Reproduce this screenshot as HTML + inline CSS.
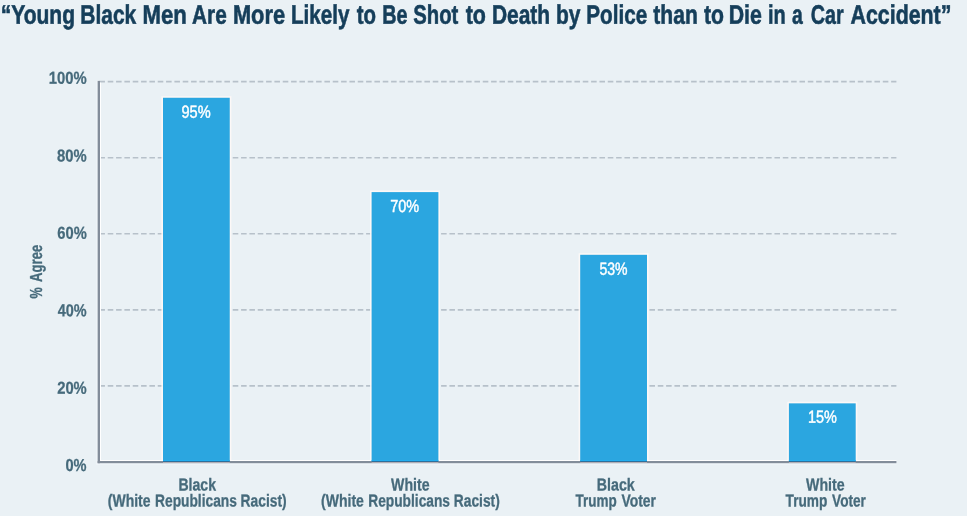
<!DOCTYPE html>
<html>
<head>
<meta charset="utf-8">
<title>Chart</title>
<style>
  html, body { margin: 0; padding: 0; background: #eaf1f5; }
  body { width: 967px; height: 516px; overflow: hidden; }
  svg { display: block; }
  svg { will-change: transform; }
  text { font-family: "Liberation Sans", sans-serif; text-rendering: geometricPrecision; }
  .title text { font-weight: bold; font-size: 26.7px; fill: #153e5a; stroke: #153e5a; stroke-width: 0.6px; }
  .tick { font-weight: bold; font-size: 17.3px; fill: #466a7b; stroke: #466a7b; stroke-width: 0.25px; }
  .val { font-weight: normal; font-size: 17.5px; fill: #ffffff; stroke: #ffffff; stroke-width: 0.45px; }
  .cat { font-weight: bold; font-size: 17.4px; fill: #466a7b; stroke: #466a7b; stroke-width: 0.3px; }
</style>
</head>
<body>
<svg width="967" height="516" viewBox="0 0 967 516">
  <rect x="0" y="0" width="967" height="516" fill="#eaf1f5"/>

  <!-- gridlines -->
  <g stroke="#b7c1ca" stroke-width="1.6" stroke-dasharray="5.556 2.778" fill="none">
    <line x1="99.4" y1="81.6" x2="896.4" y2="81.6"/>
    <line x1="99.4" y1="157.7" x2="896.4" y2="157.7"/>
    <line x1="99.4" y1="233.75" x2="896.4" y2="233.75"/>
    <line x1="99.4" y1="309.85" x2="896.4" y2="309.85"/>
    <line x1="99.4" y1="385.9" x2="896.4" y2="385.9"/>
  </g>

  <!-- light halo (sharpening artefact in source) -->
  <g fill="#fdf8f6" opacity="0.92">
    <rect x="161.40" y="96.15" width="69.95" height="364.85"/>
    <rect x="370.00" y="190.50" width="70.00" height="270.50"/>
    <rect x="578.60" y="253.20" width="70.00" height="207.80"/>
    <rect x="787.30" y="401.75" width="70.00" height="59.25"/>
  </g>
  <rect x="100" y="82.6" width="1" height="378.4" fill="#ffffff"/>
  <rect x="100" y="460" width="796.4" height="1" fill="#ffffff"/>
  <rect x="96.3" y="81" width="1.4" height="383.6" fill="#f1f6fa"/>
  <rect x="96.3" y="463.2" width="800.1" height="1.4" fill="#f1f6fa"/>

  <!-- axes -->
  <rect x="97.65" y="80.9" width="2.35" height="382.3" fill="#838d9a"/>
  <rect x="97.65" y="461" width="798.75" height="2.2" fill="#838d9a"/>

  <!-- bars -->
  <g fill="#2ba6e0">
    <rect x="163.00" y="97.75" width="66.75" height="363.25"/>
    <rect x="371.60" y="192.10" width="66.80" height="268.90"/>
    <rect x="580.20" y="254.80" width="66.80" height="206.20"/>
    <rect x="788.90" y="403.35" width="66.80" height="57.65"/>
  </g>
  <g fill="#23adee">
    <rect x="163.00" y="460" width="66.75" height="1"/>
    <rect x="371.60" y="460" width="66.80" height="1"/>
    <rect x="580.20" y="460" width="66.80" height="1"/>
    <rect x="788.90" y="460" width="66.80" height="1"/>
  </g>
  <g fill="#2d6f9c">
    <rect x="163.00" y="461" width="66.75" height="1"/>
    <rect x="371.60" y="461" width="66.80" height="1"/>
    <rect x="580.20" y="461" width="66.80" height="1"/>
    <rect x="788.90" y="461" width="66.80" height="1"/>
  </g>
  <g fill="#cbbfc2">
    <rect x="163.00" y="462" width="66.75" height="0.7"/>
    <rect x="371.60" y="462" width="66.80" height="0.7"/>
    <rect x="580.20" y="462" width="66.80" height="0.7"/>
    <rect x="788.90" y="462" width="66.80" height="0.7"/>
  </g>

  <!-- all text (tiny per-element rotation gives unhinted, sub-pixel positioned glyphs) -->
  <g id="txt">
  <!-- title -->
  <g class="title">
    <text transform="rotate(0.05 0.68 23.75)" x="0.68" y="23.75" textLength="74.41" lengthAdjust="spacingAndGlyphs">“Young</text>
    <text transform="rotate(0.05 80.30 23.75)" x="80.30" y="23.75" textLength="55.95" lengthAdjust="spacingAndGlyphs">Black</text>
    <text transform="rotate(0.05 142.56 23.75)" x="142.56" y="23.75" textLength="44.32" lengthAdjust="spacingAndGlyphs">Men</text>
    <text transform="rotate(0.05 192.09 23.75)" x="192.09" y="23.75" textLength="34.61" lengthAdjust="spacingAndGlyphs">Are</text>
    <text transform="rotate(0.05 232.89 23.75)" x="232.89" y="23.75" textLength="52.20" lengthAdjust="spacingAndGlyphs">More</text>
    <text transform="rotate(0.05 290.90 23.75)" x="290.90" y="23.75" textLength="58.48" lengthAdjust="spacingAndGlyphs">Likely</text>
    <text transform="rotate(0.05 356.73 23.75)" x="356.73" y="23.75" textLength="19.27" lengthAdjust="spacingAndGlyphs">to</text>
    <text transform="rotate(0.05 382.22 23.75)" x="382.22" y="23.75" textLength="25.25" lengthAdjust="spacingAndGlyphs">Be</text>
    <text transform="rotate(0.05 413.28 23.75)" x="413.28" y="23.75" textLength="45.08" lengthAdjust="spacingAndGlyphs">Shot</text>
    <text transform="rotate(0.05 465.69 23.75)" x="465.69" y="23.75" textLength="20.22" lengthAdjust="spacingAndGlyphs">to</text>
    <text transform="rotate(0.05 491.93 23.75)" x="491.93" y="23.75" textLength="58.22" lengthAdjust="spacingAndGlyphs">Death</text>
    <text transform="rotate(0.05 555.94 23.75)" x="555.94" y="23.75" textLength="24.47" lengthAdjust="spacingAndGlyphs">by</text>
    <text transform="rotate(0.05 586.27 23.75)" x="586.27" y="23.75" textLength="60.88" lengthAdjust="spacingAndGlyphs">Police</text>
    <text transform="rotate(0.05 653.33 23.75)" x="653.33" y="23.75" textLength="44.44" lengthAdjust="spacingAndGlyphs">than</text>
    <text transform="rotate(0.05 703.88 23.75)" x="703.88" y="23.75" textLength="19.99" lengthAdjust="spacingAndGlyphs">to</text>
    <text transform="rotate(0.05 728.75 23.75)" x="728.75" y="23.75" textLength="33.12" lengthAdjust="spacingAndGlyphs">Die</text>
    <text transform="rotate(0.05 768.06 23.75)" x="768.06" y="23.75" textLength="17.75" lengthAdjust="spacingAndGlyphs">in</text>
    <text transform="rotate(0.05 791.98 23.75)" x="791.98" y="23.75" textLength="10.74" lengthAdjust="spacingAndGlyphs">a</text>
    <text transform="rotate(0.05 810.85 23.75)" x="810.85" y="23.75" textLength="32.86" lengthAdjust="spacingAndGlyphs">Car</text>
    <text transform="rotate(0.05 850.57 23.75)" x="850.57" y="23.75" textLength="100.84" lengthAdjust="spacingAndGlyphs">Accident”</text>
  </g>

  <!-- tick labels -->
  <text transform="rotate(0.05 48.74 83.75)" class="tick" x="48.74" y="83.75" textLength="38.05" lengthAdjust="spacingAndGlyphs">100%</text>
  <text transform="rotate(0.05 57.08 161.5)" class="tick" x="57.08" y="161.5" textLength="29.69" lengthAdjust="spacingAndGlyphs">80%</text>
  <text transform="rotate(0.05 57.30 238.75)" class="tick" x="57.30" y="238.75" textLength="29.47" lengthAdjust="spacingAndGlyphs">60%</text>
  <text transform="rotate(0.05 57.64 316.25)" class="tick" x="57.64" y="316.25" textLength="29.00" lengthAdjust="spacingAndGlyphs">40%</text>
  <text transform="rotate(0.05 57.17 393.75)" class="tick" x="57.17" y="393.75" textLength="29.63" lengthAdjust="spacingAndGlyphs">20%</text>
  <text transform="rotate(0.05 65.44 471)" class="tick" x="65.44" y="471" textLength="21.10" lengthAdjust="spacingAndGlyphs">0%</text>

  <!-- y axis title -->
  <text class="cat" transform="translate(42.3 298.4) rotate(-90)" textLength="11.2" lengthAdjust="spacingAndGlyphs">%</text>
  <text class="cat" transform="translate(42.3 281.9) rotate(-90)" textLength="37.2" lengthAdjust="spacingAndGlyphs">Agree</text>

  <!-- value labels -->
  <text transform="rotate(0.05 181.45 117.75)" class="val" x="181.45" y="117.75" textLength="29.15" lengthAdjust="spacingAndGlyphs">95%</text>
  <text transform="rotate(0.05 390.27 212)" class="val" x="390.27" y="212" textLength="28.94" lengthAdjust="spacingAndGlyphs">70%</text>
  <text transform="rotate(0.05 599.48 274.75)" class="val" x="599.48" y="274.75" textLength="28.10" lengthAdjust="spacingAndGlyphs">53%</text>
  <text transform="rotate(0.05 808.00 422.75)" class="val" x="808.00" y="422.75" textLength="28.87" lengthAdjust="spacingAndGlyphs">15%</text>

  <!-- category labels -->
  <text transform="rotate(0.05 178.39 490.5)" class="cat" x="178.39" y="490.5" textLength="37.58" lengthAdjust="spacingAndGlyphs">Black</text>
  <text transform="rotate(0.05 107.86 506.5)" class="cat" x="107.86" y="506.5" textLength="42.68" lengthAdjust="spacingAndGlyphs">(White</text>
  <text transform="rotate(0.05 155.04 506.5)" class="cat" x="155.04" y="506.5" textLength="81.86" lengthAdjust="spacingAndGlyphs">Republicans</text>
  <text transform="rotate(0.05 240.62 506.5)" class="cat" x="240.62" y="506.5" textLength="46.02" lengthAdjust="spacingAndGlyphs">Racist)</text>
  <text transform="rotate(0.05 391.10 490.5)" class="cat" x="391.10" y="490.5" textLength="38.42" lengthAdjust="spacingAndGlyphs">White</text>
  <text transform="rotate(0.05 321.07 506.5)" class="cat" x="321.07" y="506.5" textLength="42.82" lengthAdjust="spacingAndGlyphs">(White</text>
  <text transform="rotate(0.05 368.21 506.5)" class="cat" x="368.21" y="506.5" textLength="81.82" lengthAdjust="spacingAndGlyphs">Republicans</text>
  <text transform="rotate(0.05 453.80 506.5)" class="cat" x="453.80" y="506.5" textLength="45.93" lengthAdjust="spacingAndGlyphs">Racist)</text>
  <text transform="rotate(0.05 596.78 490.5)" class="cat" x="596.78" y="490.5" textLength="37.95" lengthAdjust="spacingAndGlyphs">Black</text>
  <text transform="rotate(0.05 575.59 506.5)" class="cat" x="575.59" y="506.5" textLength="41.14" lengthAdjust="spacingAndGlyphs">Trump</text>
  <text transform="rotate(0.05 621.42 506.5)" class="cat" x="621.42" y="506.5" textLength="34.51" lengthAdjust="spacingAndGlyphs">Voter</text>
  <text transform="rotate(0.05 806.10 490.5)" class="cat" x="806.10" y="490.5" textLength="38.54" lengthAdjust="spacingAndGlyphs">White</text>
  <text transform="rotate(0.05 785.55 506.5)" class="cat" x="785.55" y="506.5" textLength="41.79" lengthAdjust="spacingAndGlyphs">Trump</text>
  <text transform="rotate(0.05 832.09 506.5)" class="cat" x="832.09" y="506.5" textLength="33.83" lengthAdjust="spacingAndGlyphs">Voter</text>
  </g>
</svg>
</body>
</html>
